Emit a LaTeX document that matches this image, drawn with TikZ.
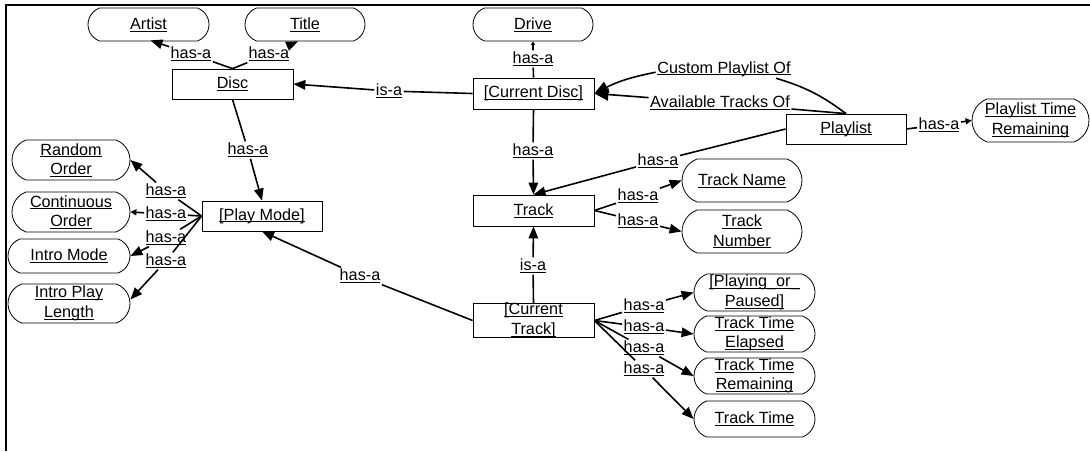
\documentclass[tikz,border=0pt]{standalone}
\usepackage{fontspec}
\setmainfont{Liberation Sans}
\usetikzlibrary{arrows.meta,shapes.misc}
\newcommand{\ulx}[1]{\setbox0\hbox{#1}\rlap{\rule[-2.2pt]{\wd0}{0.9pt}}\box0}
\begin{document}
\begin{tikzpicture}[x=1pt,y=1pt,
  font=\fontsize{16.2}{19.5}\selectfont,
  ent/.style={draw=black, line width=0.8pt, rectangle, inner sep=0pt, minimum width=121pt, minimum height=31pt, align=center},
  att/.style={draw=black, line width=0.8pt, rounded rectangle, rounded rectangle arc length=140, inner sep=0pt, minimum width=120pt, minimum height=36pt, align=center},
  lbl/.style={inner sep=1.5pt},
  conn/.style={line width=1.6pt, black},
  arr/.style={conn, -{Triangle[length=12pt,width=9.5pt]}},
  barr/.style={conn, -{Triangle[length=14pt,width=12pt]}},
  sarr/.style={conn, -{Triangle[length=6pt,width=6pt]}},
  tarr/.style={conn, -{Triangle[length=3.5pt,width=4pt]}}
]
\useasboundingbox (0,0) rectangle (1090,-451);
\draw[line width=1.8pt] (5.8,-451) -- (5.8,-5) -- (1090,-5);

% entity boxes
\node[ent, minimum height=30pt] (disc) at (232.5,-84) {\ulx{Disc}};
\node[ent] (curdisc) at (533.5,-93.5) {\ulx{[Current Disc]}};
\node[ent, minimum width=120pt, minimum height=30pt] (playlist) at (846,-129) {\ulx{Playlist}};
\node[ent, minimum width=120pt, minimum height=30pt] (playmode) at (262,-216) {\ulx{[Play Mode]}};
\node[ent] (track) at (533.5,-210.5) {\ulx{Track}};
\node[ent, minimum height=33pt] (curtrack) at (533.5,-320.5) {\ulx{[Current}\\\ulx{Track]}};

% attribute nodes
\node[att, minimum width=121pt, minimum height=33pt] (artist) at (148.5,-24.5) {\ulx{Artist}};
\node[att, minimum height=33pt] (title) at (305,-24.5) {\ulx{Title}};
\node[att, minimum height=33pt] (drive) at (533,-24.5) {\ulx{Drive}};
\node[att, minimum width=117pt, minimum height=43pt] (ptr) at (1030.5,-120.5) {\ulx{Playlist Time}\\\ulx{Remaining}};
\node[att, minimum width=118pt, minimum height=40pt] (random) at (71,-160) {\ulx{Random}\\\ulx{Order}};
\node[att, minimum width=118pt, minimum height=40pt] (continuous) at (71,-212) {\ulx{Continuous}\\\ulx{Order}};
\node[att, minimum width=122pt, minimum height=34pt] (intromode) at (69,-256) {\ulx{Intro Mode}};
\node[att, minimum width=122pt, minimum height=39pt] (ipl) at (69,-303.5) {\ulx{Intro Play}\\\ulx{Length}};
\node[att, minimum height=43pt] (trackname) at (742,-180.5) {\ulx{Track Name}};
\node[att, minimum height=43pt] (tracknumber) at (742,-231.5) {\ulx{Track}\\\ulx{Number}};
\node[att, minimum width=121pt, minimum height=37pt] (playing) at (754.5,-292.5) {\ulx{[Playing\_or\_}\\\ulx{Paused]}};
\node[att, minimum width=121pt, minimum height=36pt] (elapsed) at (754.5,-334) {\ulx{Track Time}\\\ulx{Elapsed}};
\node[att, minimum width=121pt, minimum height=36pt] (remaining) at (754.5,-376) {\ulx{Track Time}\\\ulx{Remaining}};
\node[att, minimum width=121pt, minimum height=36pt] (tracktime) at (754.5,-419) {\ulx{Track Time}};

% labels
\node[lbl] (l1) at (191,-54) {\ulx{has-a}};
\node[lbl] (l2) at (269,-54) {\ulx{has-a}};
\node[lbl] (l3) at (533,-59) {\ulx{has-a}};
\node[lbl] (l4) at (389,-91) {\ulx{is-a}};
\node[lbl] (l5) at (724,-69) {\ulx{Custom Playlist Of}};
\node[lbl] (l6) at (720,-103) {\ulx{Available Tracks Of}};
\node[lbl] (l7) at (533,-151) {\ulx{has-a}};
\node[lbl] (l8) at (658,-161) {\ulx{has-a}};
\node[lbl] (l9) at (638,-196) {\ulx{has-a}};
\node[lbl] (l10) at (638,-221) {\ulx{has-a}};
\node[lbl] (l11) at (533,-266) {\ulx{is-a}};
\node[lbl] (l12) at (360,-276) {\ulx{has-a}};
\node[lbl] (l13) at (248,-150) {\ulx{has-a}};
\node[lbl] (l14) at (166,-191) {\ulx{has-a}};
\node[lbl] (l15) at (166,-214) {\ulx{has-a}};
\node[lbl] (l16) at (166,-238) {\ulx{has-a}};
\node[lbl] (l17) at (166,-261) {\ulx{has-a}};
\node[lbl] (l18) at (644,-306) {\ulx{has-a}};
\node[lbl] (l19) at (644,-327) {\ulx{has-a}};
\node[lbl] (l20) at (644,-348) {\ulx{has-a}};
\node[lbl] (l21) at (644,-369) {\ulx{has-a}};
\node[lbl] (l22) at (939,-125) {\ulx{has-a}};

% connectors
\draw[arr] (disc.north) -- (l1) -- ([xshift=2pt,yshift=1pt]artist.south);
\draw[arr] (disc.north) -- (l2) -- ([xshift=-7pt]title.south);
\draw[tarr] (curdisc.north) -- (l3) -- (drive.south);
\draw[arr] (curdisc.west) -- (l4) -- (disc.east);
\draw[barr] (playlist.north) to[bend right=10] (l5) (l5) to[bend right=8] (curdisc.east);
\draw[barr] (playlist.north) -- (l6) -- (curdisc.east);
\draw[arr] (curdisc.south) -- (l7) -- (track.north);
\draw[arr] (playlist.west) -- (l8) -- (track.north);
\draw[arr] (track.east) -- (l9) -- (trackname.west);
\draw[arr] (track.east) -- (l10) -- (tracknumber.west);
\draw[arr] (curtrack.north) -- (l11) -- (track.south);
\draw[arr] (curtrack.west) -- (l12) -- (playmode.south);
\draw[arr] (disc.south) -- (l13) -- (playmode.north);
\draw[arr] (playmode.west) -- (l14) -- (random.east);
\draw[sarr] (playmode.west) -- (l15) -- (continuous.east);
\draw[arr] (playmode.west) -- (l16) -- (intromode.east);
\draw[arr] (playmode.west) -- (l17) -- ([yshift=4pt]ipl.east);
\draw[arr] (curtrack.east) -- (l18) -- (playing.west);
\draw[arr] (curtrack.east) -- (l19) -- (elapsed.west);
\draw[arr] (curtrack.east) -- (l20) -- (remaining.west);
\draw[arr] (curtrack.east) -- (l21) -- (tracktime.west);
\draw[sarr] (playlist.east) -- (l22) -- (ptr.west);
\end{tikzpicture}
\end{document}
